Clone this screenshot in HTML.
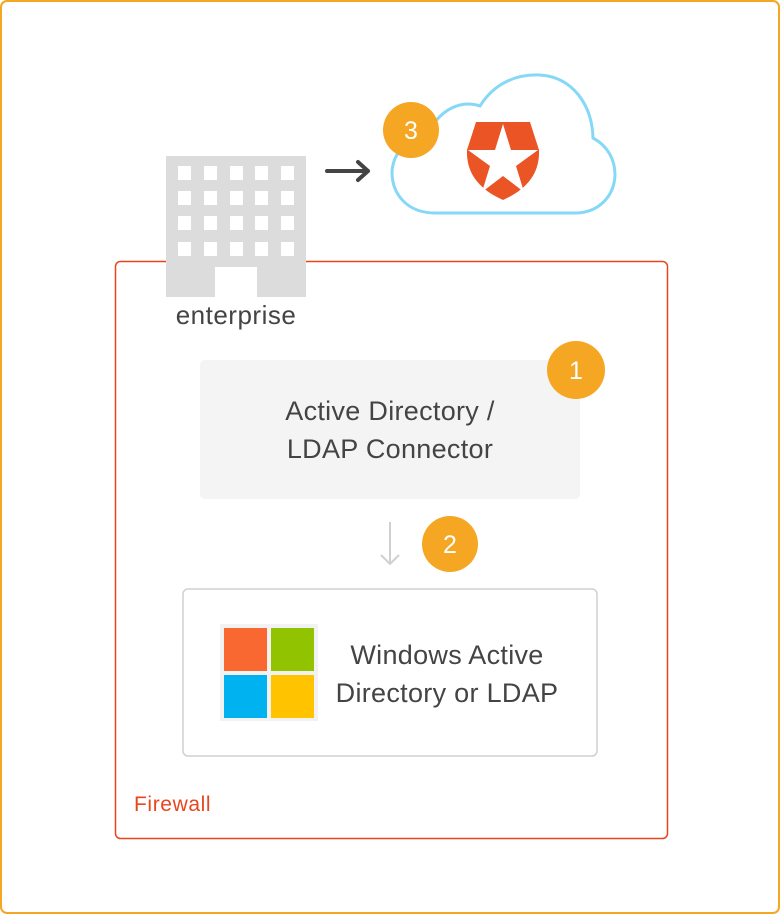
<!DOCTYPE html>
<html><head><meta charset="utf-8"><style>
html,body{margin:0;padding:0;background:#fff;}
svg{display:block;}
text{font-family:"Liberation Sans",sans-serif;fill:#444;}
</style></head><body>
<svg width="780" height="914" viewBox="0 0 780 914" xmlns="http://www.w3.org/2000/svg">
<rect x="1" y="1" width="778" height="912" rx="6" fill="#fff" stroke="#f5a623" stroke-width="2"/>
<!-- firewall -->
<rect x="115.5" y="261.5" width="552" height="577" rx="5" fill="none" stroke="#e9461e" stroke-width="1.5"/>
<text x="134" y="811" font-size="21" letter-spacing="0.6" style="fill:#e9461e">Firewall</text>
<!-- building -->
<rect x="166" y="156" width="140" height="141" fill="#dcdcdc"/>
<g fill="#fff">
<rect x="178" y="166" width="13" height="14"/><rect x="204" y="166" width="13" height="14"/><rect x="230" y="166" width="13" height="14"/><rect x="255" y="166" width="13" height="14"/><rect x="281" y="166" width="13" height="14"/>
<rect x="178" y="191" width="13" height="14"/><rect x="204" y="191" width="13" height="14"/><rect x="230" y="191" width="13" height="14"/><rect x="255" y="191" width="13" height="14"/><rect x="281" y="191" width="13" height="14"/>
<rect x="178" y="216" width="13" height="14"/><rect x="204" y="216" width="13" height="14"/><rect x="230" y="216" width="13" height="14"/><rect x="255" y="216" width="13" height="14"/><rect x="281" y="216" width="13" height="14"/>
<rect x="178" y="242" width="13" height="14"/><rect x="204" y="242" width="13" height="14"/><rect x="230" y="242" width="13" height="14"/><rect x="255" y="242" width="13" height="14"/><rect x="281" y="242" width="13" height="14"/>
<rect x="215" y="267" width="42" height="30"/>
</g>
<text x="236" y="324" font-size="26" letter-spacing="0.5" text-anchor="middle">enterprise</text>
<!-- arrow -->
<path d="M327 171 H368 M358 162 L368 171 L358 180" fill="none" stroke="#444" stroke-width="4" stroke-linecap="round" stroke-linejoin="round"/>
<!-- cloud -->
<path d="M435,213 C408,213 392,195 392,172 C393,152 408,138 428,134 C440,108 462,100 480,106 C495,82 518,74 540,75 C572,77 592,104 593,138 C608,146 615,160 615,175 C614,198 597,213 575,213 Z" fill="#fff" stroke="#86d8f7" stroke-width="3"/>
<!-- shield -->
<path d="M476,122 H530 L539,150 C540,175 525,190 503,200 C481,190 466,175 467,150 Z" fill="#eb5424"/>
<polygon points="503,124 511,150 538,150 516,166 524,192 503,176 482,192 490,166 468,150 495,150" fill="#fff"/>
<circle cx="411" cy="130" r="28" fill="#f5a623"/>
<text x="411" y="139" font-size="25" text-anchor="middle" style="fill:#fff">3</text>
<!-- connector box -->
<rect x="200" y="360" width="380" height="139" rx="5" fill="#f4f4f4"/>
<text x="390" y="420" font-size="27" letter-spacing="0.3" text-anchor="middle">Active Directory /</text>
<text x="390" y="458" font-size="27" letter-spacing="0.3" text-anchor="middle">LDAP Connector</text>
<circle cx="576" cy="370" r="29" fill="#f5a623"/>
<text x="576" y="379" font-size="25" text-anchor="middle" style="fill:#fff">1</text>
<!-- down arrow -->
<path d="M390 522 V564 M381 555 L390 564 L399 555" fill="none" stroke="#d0d0d0" stroke-width="2"/>
<circle cx="450" cy="544" r="28" fill="#f5a623"/>
<text x="450" y="553" font-size="25" text-anchor="middle" style="fill:#fff">2</text>
<!-- windows box -->
<rect x="183" y="589" width="414" height="167" rx="5" fill="#fff" stroke="#d0d0d0" stroke-width="1.5"/>
<rect x="220" y="624" width="98" height="97" fill="#f2f2f2"/>
<rect x="224" y="628" width="43" height="43" fill="#f86830"/>
<rect x="271" y="628" width="43" height="43" fill="#92c300"/>
<rect x="224" y="675" width="43" height="43" fill="#00b3f0"/>
<rect x="271" y="675" width="43" height="43" fill="#ffc300"/>
<text x="447" y="664" font-size="27" letter-spacing="0.3" text-anchor="middle">Windows Active</text>
<text x="447" y="702" font-size="27" letter-spacing="0.3" text-anchor="middle">Directory or LDAP</text>
</svg>
</body></html>
